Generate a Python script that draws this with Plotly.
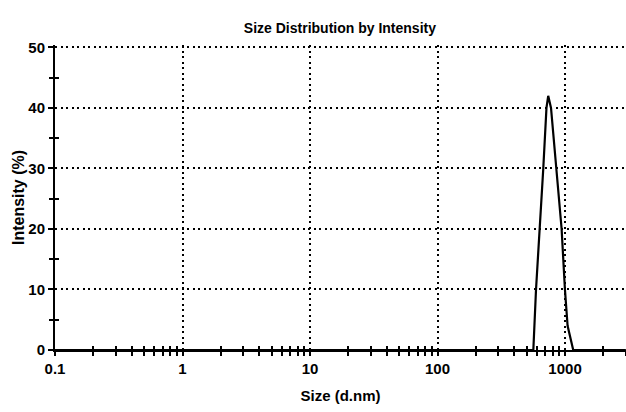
import plotly.graph_objects as go

size_nm = [0.1, 564, 592, 635, 675, 715, 738, 776, 859, 940, 998, 1047, 1159, 3000]
intensity = [0, 0, 10, 20, 30, 40, 42, 40, 30, 20, 10, 4, 0, 0]

x_ticks = [0.1, 1, 10, 100, 1000]
x_tick_labels = ["0.1", "1", "10", "100", "1000"]
x_minor = [m * 10 ** e for e in range(-1, 4) for m in range(2, 10)]
y_ticks = [0, 10, 20, 30, 40, 50]
y_minor = [5, 15, 25, 35, 45]

FONT = "Liberation Sans, Arial"
xr = [-1, 3.478]
yr = [0, 50.4]

fig = go.Figure()
fig.add_trace(go.Scatter(x=size_nm, y=intensity, mode="lines",
                         line=dict(color="black", width=2.2), showlegend=False,
                         cliponaxis=False))

fig.update_layout(
    width=626, height=412,
    margin=dict(l=55, r=0, t=45, b=62),
    plot_bgcolor="white", paper_bgcolor="white",
    title=dict(text="<b>Size Distribution by Intensity</b>", x=0.543, xanchor="center",
               y=0.933, yanchor="middle", font=dict(family=FONT, size=14, color="black")),
    font=dict(family=FONT, size=14, color="black"),
    xaxis=dict(type="log", range=xr, tickvals=x_ticks, ticktext=[f"<b>{t}</b>" for t in x_tick_labels],
               showgrid=True, gridcolor="black", griddash="2px,3.5px", gridwidth=1.8,
               showline=True, linecolor="black", linewidth=2,
               ticks="outside", ticklen=4, tickwidth=1.5, tickcolor="black",
               minor=dict(tickvals=x_minor, ticks="outside", ticklen=4, tickwidth=1.5, tickcolor="black", showgrid=False),
               title=dict(text="<b>Size (d.nm)</b>", font=dict(family=FONT, size=15), standoff=14),
               tickfont=dict(family=FONT, size=15), zeroline=False),
    xaxis2=dict(type="log", range=xr, overlaying="x", showgrid=False, showticklabels=False,
                tickvals=x_minor, ticks="inside", ticklen=4, tickwidth=1.5, tickcolor="black",
                showline=False, zeroline=False),
    yaxis=dict(range=yr, tickvals=y_ticks, ticktext=[f"<b>{t}</b>" for t in y_ticks],
               showgrid=True, gridcolor="black", griddash="2px,3.5px", gridwidth=1.8,
               showline=True, linecolor="black", linewidth=2,
               ticks="outside", ticklen=5, tickwidth=1.5, tickcolor="black",
               minor=dict(tickvals=y_minor, ticks="outside", ticklen=4, tickwidth=1.5, tickcolor="black", showgrid=False),
               title=dict(text="<b>Intensity (%)</b>", font=dict(family=FONT, size=16), standoff=0),
               tickfont=dict(family=FONT, size=15), zeroline=False),
    yaxis2=dict(range=yr, overlaying="y", showgrid=False, showticklabels=False,
                tickvals=y_minor, ticks="inside", ticklen=4, tickwidth=1.5, tickcolor="black",
                showline=False, zeroline=False),
)
# invisible trace so the overlay axes (inner half of the crossing ticks) are drawn
fig.add_trace(go.Scatter(x=[1], y=[0], xaxis="x2", yaxis="y2", mode="markers",
                         marker=dict(opacity=0), showlegend=False, hoverinfo="skip"))

fig.write_html("out.html")
